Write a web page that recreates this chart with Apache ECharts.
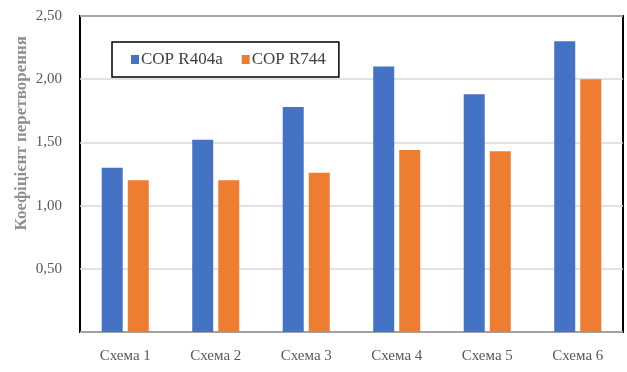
<!DOCTYPE html>
<html>
<head>
<meta charset="utf-8">
<style>
  html, body { margin: 0; padding: 0; background: #ffffff; }
  #chart { width: 627px; height: 372px; }
</style>
<script src="https://cdn.jsdelivr.net/npm/echarts@6/dist/echarts.min.js"></script>
</head>
<body>
<div id="chart"></div>
<script>
// Coefficient of performance per scheme for two refrigerants
const categories = ['Схема 1', 'Схема 2', 'Схема 3', 'Схема 4', 'Схема 5', 'Схема 6'];
const copR404a = [1.30, 1.52, 1.78, 2.10, 1.88, 2.30];
const copR744 = [1.20, 1.20, 1.26, 1.44, 1.43, 2.00];
const seriesNames = ['COP R404a', 'COP R744'];
const yTitle = 'Коефіцієнт перетворення';

const serif = '"Liberation Serif", "DejaVu Serif", serif';

const chart = echarts.init(document.getElementById('chart'), null, { renderer: 'canvas' });

chart.setOption({
  animation: false,
  backgroundColor: '#ffffff',
  grid: {
    left: 80, right: 4, top: 16, bottom: 40,
    show: true, borderColor: '#000000', borderWidth: 2, backgroundColor: 'transparent'
  },
  legend: {
    left: 112, top: 42,
    padding: [9, 13, 9, 19],
    itemWidth: 8, itemHeight: 9, itemGap: 19,
    icon: 'rect',
    borderColor: '#000000', borderWidth: 1.5,
    backgroundColor: '#ffffff',
    textStyle: { fontFamily: serif, fontSize: 17, color: '#404040', padding: [0, 0, 0, -3] },
    data: seriesNames
  },
  xAxis: {
    type: 'category',
    data: categories,
    axisLine: { show: false },
    axisTick: { show: false },
    axisLabel: { fontFamily: serif, fontSize: 15, color: '#595959', margin: 17 }
  },
  yAxis: {
    type: 'value',
    min: 0, max: 2.5, interval: 0.5,
    axisLine: { show: false },
    axisTick: { show: false },
    splitLine: { lineStyle: { color: '#d9d9d9', width: 1.5 } },
    axisLabel: {
      fontFamily: serif, fontSize: 15, color: '#595959', margin: 18,
      formatter: v => v === 0 ? '' : v.toFixed(2).replace('.', ',')
    }
  },
  graphic: [{
    type: 'text',
    left: 13,
    top: 36,
    rotation: Math.PI / 2,
    style: {
      text: yTitle,
      font: 'bold 17px ' + serif,
      fill: '#8f8f8f'
    }
  }],
  series: [
    {
      name: seriesNames[0], type: 'bar', data: copR404a,
      barWidth: 21, barGap: '24%',
      itemStyle: { color: '#4472C4' }
    },
    {
      name: seriesNames[1], type: 'bar', data: copR744,
      barWidth: 21,
      itemStyle: { color: '#ED7D31' }
    }
  ]
});
</script>
</body>
</html>
